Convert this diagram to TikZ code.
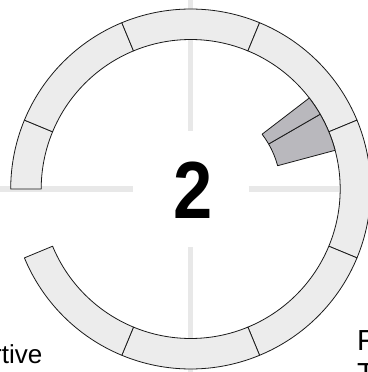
\documentclass[tikz,border=0pt]{standalone}
\usepackage{fontspec}
\setmainfont{Liberation Sans}
\newfontfamily\bigfont[FakeStretch=0.87]{Liberation Sans}
\definecolor{ringfill}{HTML}{ECECEC}
\definecolor{crossgray}{HTML}{E8E8E8}
\definecolor{wedgefill}{HTML}{B9B8BD}
\definecolor{edgecol}{HTML}{1A1A1A}
\tikzset{
  seg/.style={fill=ringfill, draw=edgecol, line width=0.8pt, line join=round},
  wedgeseg/.style={fill=wedgefill, draw=edgecol, line width=0.8pt, line join=round},
  crossline/.style={draw=crossgray, line width=5.5pt},
  labeltext/.style={inner sep=0pt, font=\fontsize{26}{30}\selectfont},
  labeltextb/.style={inner sep=0pt, font=\fontsize{29}{33.4}\selectfont}
}
\newcommand{\annsec}[5][seg]{%
  \path[#1] (#2:#4) arc[start angle=#2, end angle=#3, radius=#4]
    -- (#3:#5) arc[start angle=#3, end angle=#2, radius=#5] -- cycle;}
\begin{document}
\begin{tikzpicture}[x=1pt,y=1pt]
\useasboundingbox (-190.7,-183) rectangle (176.3,189);
% crosshair
\coordinate (hl0) at (-190.7,0);
\coordinate (hl1) at (-58,0);
\coordinate (hr0) at (58,0);
\coordinate (hr1) at (176.3,0);
\coordinate (vt0) at (0,189);
\coordinate (vt1) at (0,58);
\coordinate (vb0) at (0,-58);
\coordinate (vb1) at (0,-183);
\draw[crossline] (hl0) -- (hl1);
\draw[crossline] (hr0) -- (hr1);
\draw[crossline] (vt0) -- (vt1);
\draw[crossline] (vb0) -- (vb1);
% ring segments
\annsec{157.5}{180}{180}{149.5}
\annsec{112.5}{157.5}{180}{149.5}
\annsec{67.5}{112.5}{180}{149.5}
\annsec{22.5}{67.5}{180}{149.5}
\annsec{-22.5}{22.5}{180}{149.5}
\annsec{-67.5}{-22.5}{180}{149.5}
\annsec{-112.5}{-67.5}{180}{149.5}
\annsec{-157.5}{-112.5}{180}{149.5}
% inner grey wedge
\annsec[wedgeseg]{15}{30}{149.5}{90}
\annsec[wedgeseg]{30}{37.5}{149.5}{90}
% central number
\node[inner sep=0pt, font=\bigfont\bfseries\fontsize{81}{81}\selectfont] (num) at (2.3,-1) {2};
% cut-off labels
\node[labeltext, anchor=base east] (lbl) at (-148.2,-174.3) {rtive};
\node[labeltextb, anchor=base west] (lbf) at (166.3,-161) {F};
\node[labeltextb, anchor=base west] (lbt) at (166.3,-194.4) {T};
\end{tikzpicture}
\end{document}
